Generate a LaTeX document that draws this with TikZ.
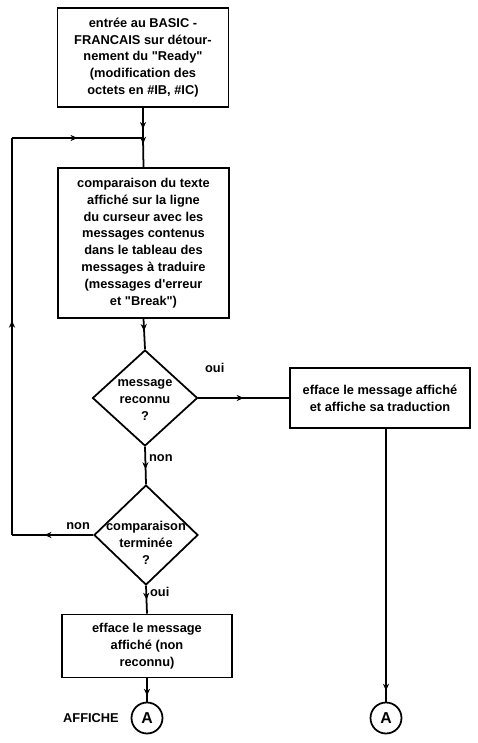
\documentclass[tikz,border=0pt]{standalone}
\usepackage{fontspec}
\setmainfont{Liberation Sans}[Ligatures=TeXOff]
\usetikzlibrary{arrows.meta,shapes.geometric,decorations.markings}
\tikzset{
  stepbox/.style={draw, line width=1pt, align=center, inner sep=2pt, font=\bfseries\fontsize{7.3}{9.6}\selectfont},
  askbox/.style={draw, diamond, line width=1pt, inner sep=0pt},
  asktext/.style={align=center, inner sep=0pt, font=\bfseries\fontsize{7.3}{9.6}\selectfont},
  linkcirc/.style={draw, circle, line width=1pt, minimum size=0.62cm, inner sep=0pt, font=\bfseries\fontsize{9}{10}\selectfont},
  flowline/.style={line width=1pt},
  midarrow/.style={postaction={decorate}, decoration={markings, mark=at position #1 with {\arrow{Stealth[length=4pt,width=3.5pt]}}}},
  lbl/.style={font=\bfseries\fontsize{7.3}{9}\selectfont, inner sep=1pt}
}
\begin{document}
\begin{tikzpicture}[x=0.02cm, y=-0.02cm]
\useasboundingbox (0,0) rectangle (477,743);
% boites
\node[stepbox, minimum width=3.42cm, minimum height=1.98cm] (entree) at (143,57.5)
  {entrée au BASIC -\\FRANCAIS sur détour-\\nement du "Ready"\\(modification des\\octets en \#IB, \#IC)};
\node[stepbox, minimum width=3.42cm, minimum height=3cm] (compar) at (143.5,243)
  {comparaison du texte\\affiché sur la ligne\\du curseur avec les\\messages contenus\\dans le tableau des\\messages à traduire\\(messages d'erreur\\et "Break")};
\node[askbox, minimum width=2.1cm, minimum height=1.92cm] (reconnu) at (145,398) {};
\node[asktext] (reconnutxt) at (145,400) {message\\reconnu\\?};
\node[stepbox, minimum width=3.6cm, minimum height=1.2cm] (traduc) at (380,398)
  {efface le message affiché\\et affiche sa traduction};
\node[askbox, minimum width=2.08cm, minimum height=2cm] (termine) at (146,535) {};
\node[asktext] (terminetxt) at (146,543) {comparaison\\terminée\\?};
\node[stepbox, minimum width=3.4cm, minimum height=1.26cm] (nonrec) at (147,646)
  {efface le message\\affiché (non\\reconnu)};
\node[linkcirc] (connA) at (147,718) {A};
\node[linkcirc] (connB) at (386,718) {A};
\node[lbl] (affiche) at (91,718) {AFFICHE};
\coordinate (jonc) at (entree.south |- 0,138);
\coordinate (hautg) at (12,138);
\coordinate (basg) at (12,535);
% liaisons
\draw[flowline, midarrow=0.7] (entree.south) -- (jonc);
\draw[flowline, midarrow=0.2] (jonc) -- (compar.north);
\draw[flowline, midarrow=0.4] (compar.south) -- (reconnu.north);
\draw[flowline, midarrow=0.5] (reconnu.east) -- (traduc.west);
\draw[flowline, midarrow=0.6] (reconnu.south) -- (termine.north);
\draw[flowline, midarrow=0.6] (termine.west) -- (basg);
\draw[flowline, midarrow=0.54] (basg) -- (hautg);
\draw[flowline, midarrow=0.5] (hautg) -- (jonc);
\draw[flowline, midarrow=0.5] (termine.south) -- (nonrec.north);
\draw[flowline, midarrow=0.75] (nonrec.south) -- (connA.north);
\draw[flowline, midarrow=0.96] (traduc.south -| connB) -- (connB.north);
% etiquettes
\node[lbl, anchor=west] at (203,368) {oui};
\node[lbl, anchor=west] at (147,458) {non};
\node[lbl, anchor=east] at (92,526) {non};
\node[lbl, anchor=west] at (148,592) {oui};
\end{tikzpicture}
\end{document}
